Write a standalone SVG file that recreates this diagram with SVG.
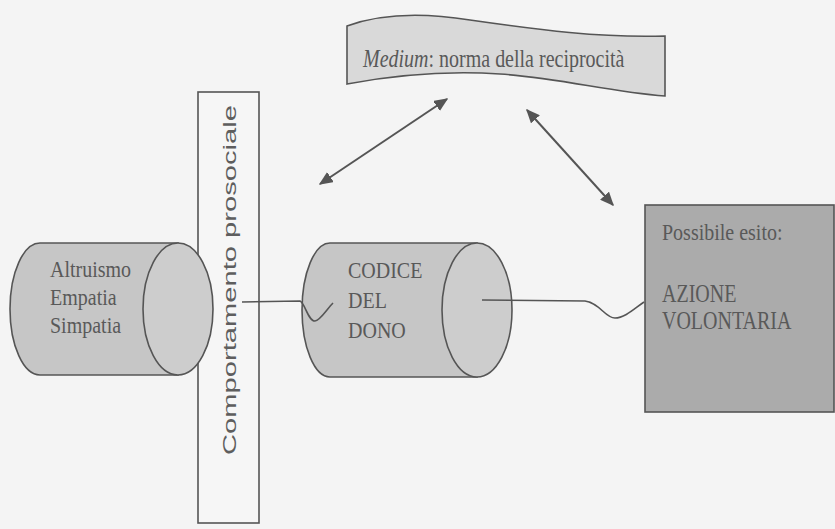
<svg xmlns="http://www.w3.org/2000/svg" width="835" height="529" viewBox="0 0 835 529">
<defs>
<style>
.st{stroke:#555;stroke-width:1.6;}
.cyl{fill:#c6c6c6;}
.face{fill:#cdcdcd;}
.tx{font-family:"Liberation Serif","Times New Roman",serif;font-size:20px;fill:#595959;}
.conn{fill:none;stroke:#555;stroke-width:1.6;}
.arr{fill:none;stroke:#555;stroke-width:2;marker-start:url(#ah);marker-end:url(#ah);}
</style>
<marker id="ah" viewBox="0 0 10 10" refX="9" refY="5" markerWidth="14" markerHeight="12" markerUnits="userSpaceOnUse" orient="auto-start-reverse" preserveAspectRatio="none">
<path d="M0,0 L10,5 L0,10 Z" fill="#555"/>
</marker>
</defs>
<rect x="0" y="0" width="835" height="529" fill="#f4f4f4"/>

<g id="banner">
<path class="st" fill="#d9d9d9" d="M347,26 C380,14 420,12 470,20 C540,30 600,38 665,36 L665,96 C610,92 560,78 500,74 C440,70 390,76 347,84 Z"/>
<text class="tx" fill="#4a4a4a" transform="translate(363,67) scale(1,1.22)"><tspan font-style="italic">Medium</tspan>: norma della reciprocità</text>
</g>

<g id="prosociale">
<rect class="st" x="198" y="92" width="61" height="431" fill="#f6f6f6"/>
<text transform="translate(236,280) rotate(-90) scale(1.62,1)" text-anchor="middle" font-family="'Liberation Sans',Arial,sans-serif" font-size="18" fill="#5e5e5e">Comportamento prosociale</text>
</g>

<g id="altruismo">
<path class="st cyl" d="M178,243 L40,243 A30,66 0 0 0 40,375 L178,375 Z"/>
<ellipse class="st face" cx="178" cy="309" rx="35" ry="66"/>
<text class="tx" transform="translate(50,277) scale(1,1.15)">Altruismo</text>
<text class="tx" transform="translate(50,305) scale(1,1.15)">Empatia</text>
<text class="tx" transform="translate(50,333) scale(1,1.15)">Simpatia</text>
</g>

<g id="codice">
<path class="st cyl" d="M477,243 L330,243 A28,67 0 0 0 330,377 L477,377 Z"/>
<ellipse class="st face" cx="477" cy="310" rx="35" ry="67"/>
<text class="tx" transform="translate(348,278) scale(1,1.15)">CODICE</text>
<text class="tx" transform="translate(348,308) scale(1,1.15)">DEL</text>
<text class="tx" transform="translate(348,338) scale(1,1.15)">DONO</text>
</g>

<g id="esito">
<rect class="st" x="645" y="205" width="189" height="207" fill="#ababab"/>
<text class="tx" font-size="18" transform="translate(662,240) scale(1,1.2)">Possibile esito:</text>
<text class="tx" transform="translate(662,302) scale(1,1.22)">AZIONE</text>
<text class="tx" transform="translate(662,329) scale(1,1.22)">VOLONTARIA</text>
</g>

<g id="connectors">
<path class="conn" d="M242,302 L300,301 C305,303 308,321 315,321 C320,321 327,309 333,303"/>
<path class="conn" d="M482,300 L585,301 C600,303 605,318 615,318 C625,318 635,308 644,302"/>
<line class="arr" x1="320" y1="184" x2="447" y2="99"/>
<line class="arr" x1="527" y1="110" x2="613" y2="205"/>
</g>
</svg>
